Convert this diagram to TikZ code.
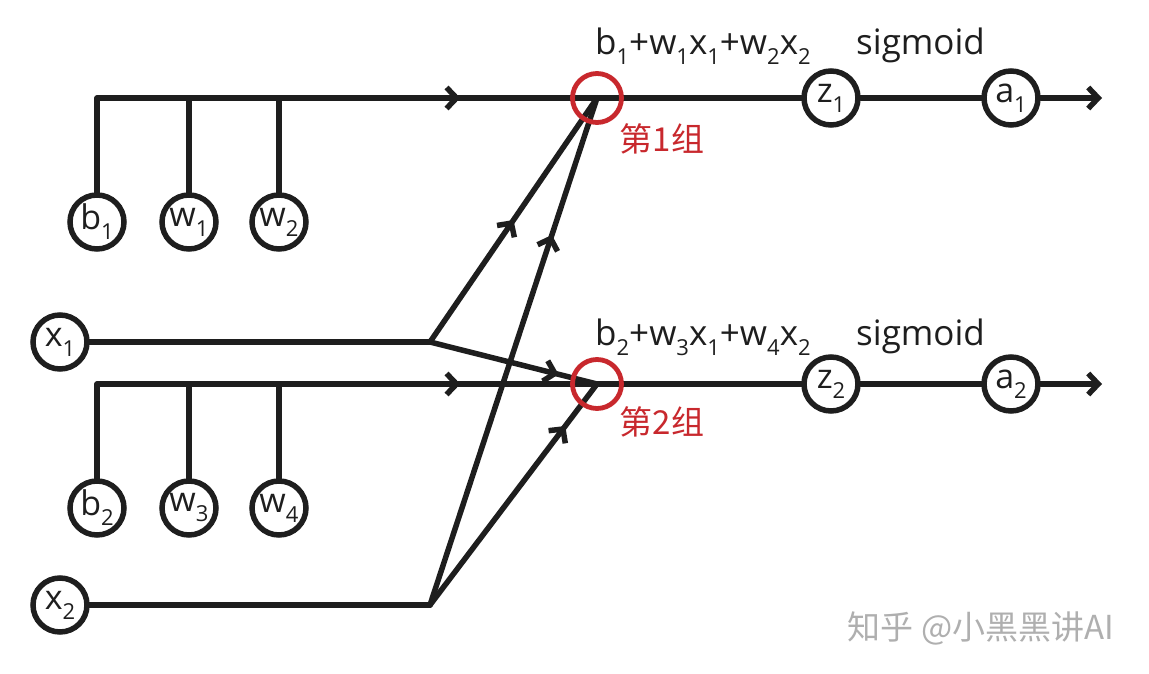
\documentclass[tikz,border=0pt]{standalone}
\usepackage{fontspec}
\setmainfont{Open Sans}
\newfontfamily\cjk{Noto Sans CJK SC}
\usetikzlibrary{arrows.meta,decorations.markings}
\pgfdeclarelayer{bg}
\pgfsetlayers{bg,main}
\definecolor{ink}{RGB}{30,30,30}
\definecolor{grpred}{RGB}{200,40,45}
\definecolor{wmark}{RGB}{175,175,175}
\newcommand{\sbx}[1]{{\fontsize{22}{22}\selectfont\raisebox{-10pt}{#1}}}
\tikzset{
  var/.style={draw=ink,circle,line width=5.5pt,minimum size=54pt,inner sep=0pt,
    font=\fontsize{34}{34}\selectfont,text=ink},
  wire/.style={draw=ink,line width=5.5pt,line cap=round,line join=round},
  grp/.style={draw=grpred,circle,line width=4.8pt,minimum size=49pt,inner sep=0pt},
  lbl/.style={anchor=base west,inner sep=0pt,text=ink,font=\fontsize{35}{35}\selectfont},
  grptext/.style={inner sep=0pt,text=grpred,font=\cjk\fontsize{33}{33}\selectfont},
  tipb/.tip={Straight Barb[length=10pt,width=21pt]},
  midarrow/.style={postaction={decorate},decoration={markings,
    mark=at position #1 with {\arrow{tipb}}}},
}
\begin{document}
\begin{tikzpicture}[x=1pt,y=-1pt]
\useasboundingbox (0,0) rectangle (1149,674);
% variable nodes
\node[var] (b1) at (97,222) {b\sbx{1}};
\node[var] (w1) at (189,222) {w\sbx{1}};
\node[var] (w2) at (279,222) {w\sbx{2}};
\node[var] (x1) at (60,342) {x\sbx{1}};
\node[var] (b2) at (97,508) {b\sbx{2}};
\node[var] (w3) at (189,508) {w\sbx{3}};
\node[var] (w4) at (279,508) {w\sbx{4}};
\node[var] (x2) at (60,605) {x\sbx{2}};
\node[var] (z1) at (831,98) {z\sbx{1}};
\node[var] (a1) at (1011,98) {a\sbx{1}};
\node[var] (z2) at (831,384) {z\sbx{2}};
\node[var] (a2) at (1011,384) {a\sbx{2}};
% group circles
\node[grp] (g1) at (597,98) {};
\node[grp] (g2) at (597,384) {};
% helper points
\coordinate (j1) at (430,342);
\coordinate (j2) at (430,605);
\coordinate (e1) at (1102,98);
\coordinate (e2) at (1102,384);
% wires
\begin{pgfonlayer}{bg}
\draw[wire,midarrow=0.77] (b1.north) |- (g1.center);
\draw[wire] (w1.north) -- (w1.north |- g1.center);
\draw[wire] (w2.north) -- (w2.north |- g1.center);
\draw[wire] (g1.center) -- (z1);
\draw[wire] (z1) -- (a1);
\draw[wire,-{tipb}] (a1) -- (e1);
\draw[wire,midarrow=0.77] (b2.north) |- (g2.center);
\draw[wire] (w3.north) -- (w3.north |- g2.center);
\draw[wire] (w4.north) -- (w4.north |- g2.center);
\draw[wire] (g2.center) -- (z2);
\draw[wire] (z2) -- (a2);
\draw[wire,-{tipb}] (a2) -- (e2);
\draw[wire] (x1) -- (j1);
\draw[wire,midarrow=0.5] (j1) -- (g1.center);
\draw[wire,midarrow=0.77] (j1) -- (g2.center);
\draw[wire] (x2) -- (j2);
\draw[wire,midarrow=0.73] (j2) -- (g1.center);
\draw[wire,midarrow=0.81] (j2) -- (g2.center);
\end{pgfonlayer}
% labels
\node[lbl] (f1) at (595,55) {b\sbx{1}+w\sbx{1}x\sbx{1}+w\sbx{2}x\sbx{2}};
\node[lbl] (s1) at (856,55) {sigmoid};
\node[lbl] (f2) at (595,345) {b\sbx{2}+w\sbx{3}x\sbx{1}+w\sbx{4}x\sbx{2}};
\node[lbl] (s2) at (856,345) {sigmoid};
\node[grptext] (t1) at (662,139) {第1组};
\node[grptext] (t2) at (662,422) {第2组};
\node[inner sep=0pt,text=wmark,font=\cjk\fontsize{33}{33}\selectfont] (wm) at (981,628) {知乎 @小黑黑讲AI};
\end{tikzpicture}
\end{document}
